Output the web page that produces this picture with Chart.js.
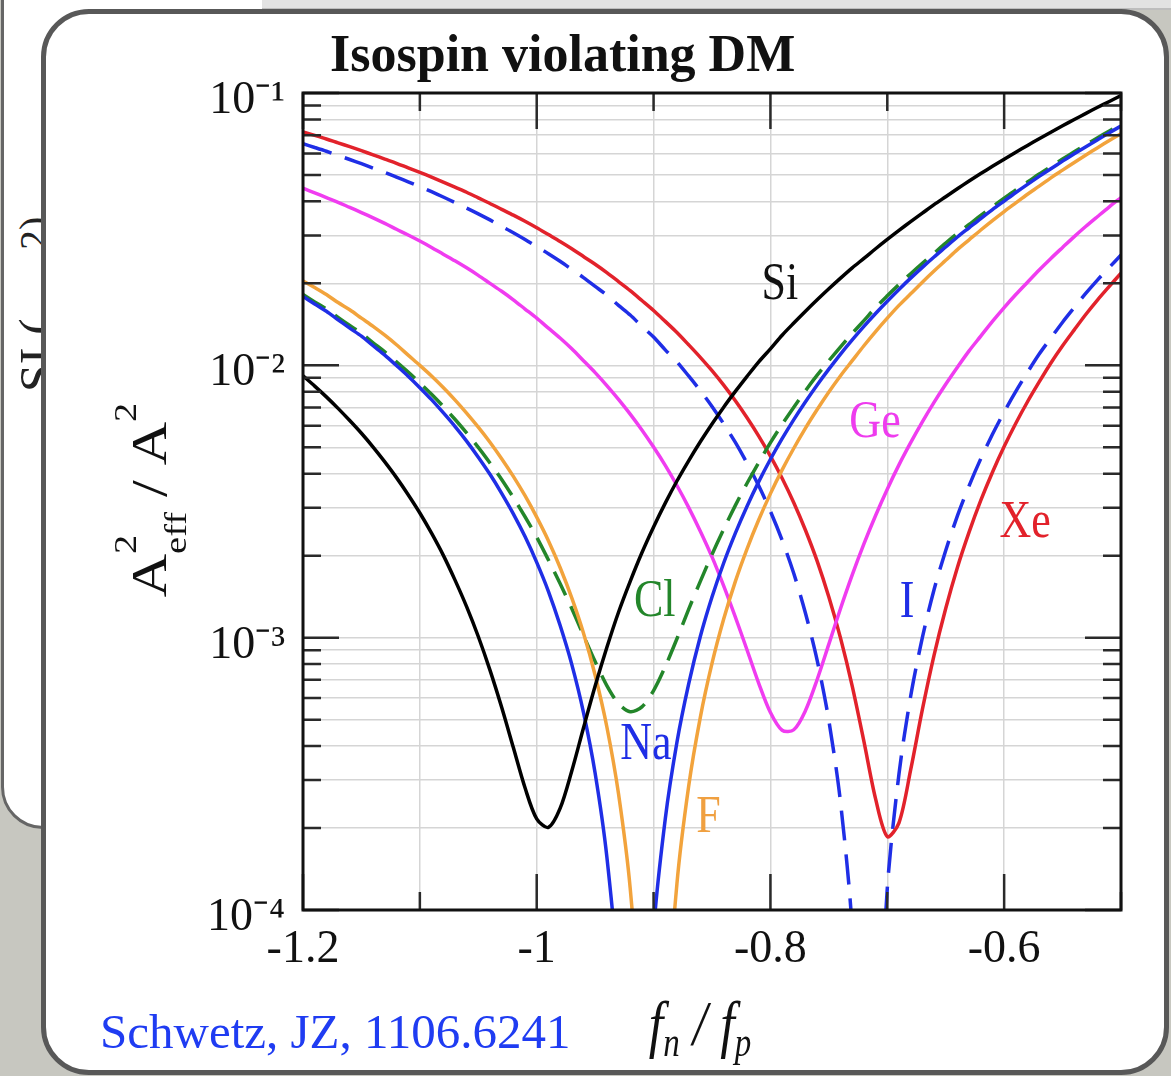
<!DOCTYPE html>
<html>
<head>
<meta charset="utf-8">
<script src="https://cdn.jsdelivr.net/npm/chart.js@4.4.1/dist/chart.umd.min.js"></script>
<style>
html, body { margin: 0; padding: 0; }
body { width: 1171px; height: 1076px; position: relative; overflow: hidden; background: #c7c7c0; }
#backCard { position: absolute; left: 1px; top: -60px; width: 700px; height: 889px; background: #fff; border: 3px solid #666; border-radius: 0 0 0 42px; box-sizing: border-box; }
#topStrip { position: absolute; left: 262px; top: 0; width: 909px; height: 10px; background: #e2e2e2; border-bottom: 2px solid #bdbdbd; box-sizing: border-box; }
.backText { position: absolute; font-family: "Liberation Serif", serif; color: #222; transform-origin: 0 0; transform: rotate(-90deg); white-space: nowrap; }
#card { position: absolute; left: 41px; top: 9px; width: 1128px; height: 1066px; background: #fff; border: 5px solid #585858; border-radius: 48px; box-sizing: border-box; }
#title { position: absolute; left: 330px; top: 28px; font-family: "Liberation Serif", serif; font-weight: bold; font-size: 52px; line-height: 52px; color: #111; white-space: nowrap; }
#cite { position: absolute; left: 100px; top: 1007px; font-family: "Liberation Serif", serif; font-size: 49px; line-height: 49px; color: #1f3cf2; white-space: nowrap; }
#chart { position: absolute; left: 0; top: 0; }
</style>
</head>
<body>
<div id="backCard"></div>
<div id="topStrip"></div>
<div class="backText" style="left:8px; top:392px; font-size:50px;">SI (</div>
<div class="backText" style="left:10px; top:250px; font-size:40px;">2)</div>
<div id="card"></div>
<div id="title">Isospin violating DM</div>
<div id="cite">Schwetz, JZ, 1106.6241</div>
<canvas id="chart" width="1171" height="1076"></canvas>
<script>
// ---- data ----
const fRatio = [-1.20,-1.19,-1.18,-1.17,-1.16,-1.15,-1.14,-1.13,-1.12,-1.11,
  -1.10,-1.09,-1.08,-1.07,-1.06,-1.05,-1.04,-1.03,-1.02,-1.01,
  -1.00,-0.99,-0.98,-0.97,-0.96,-0.95,-0.94,-0.93,-0.92,-0.91,
  -0.90,-0.89,-0.88,-0.87,-0.86,-0.85,-0.84,-0.83,-0.82,-0.81,
  -0.80,-0.79,-0.78,-0.77,-0.76,-0.75,-0.74,-0.73,-0.72,-0.71,
  -0.70,-0.69,-0.68,-0.67,-0.66,-0.65,-0.64,-0.63,-0.62,-0.61,
  -0.60,-0.59,-0.58,-0.57,-0.56,-0.55,-0.54,-0.53,-0.52,-0.51,-0.50];

const siValues = [0.00915,0.00839,0.00766,0.00695,0.00627,0.00563,0.00501,0.00442,0.00387,0.00335,
  0.00287,0.00242,0.00201,0.00163,0.00130,0.00101,0.000760,0.000555,0.000395,0.000281,
  0.000216,0.000201,0.000236,0.000324,0.000466,0.000664,0.000920,0.00124,0.00161,0.00205,
  0.00255,0.00312,0.00376,0.00446,0.00524,0.00609,0.00702,0.00802,0.00911,0.0103,
  0.0115,0.0129,0.0143,0.0158,0.0174,0.0191,0.0209,0.0228,0.0247,0.0268,
  0.0290,0.0313,0.0337,0.0362,0.0389,0.0416,0.0445,0.0475,0.0506,0.0538,
  0.0571,0.0606,0.0642,0.0679,0.0718,0.0758,0.0799,0.0842,0.0886,0.0931,0.0978];

const naValues = [0.0179,0.0168,0.0158,0.0147,0.0137,0.0128,0.0118,0.0109,0.00998,0.00912,
  0.00828,0.00748,0.00670,0.00597,0.00527,0.00460,0.00398,0.00339,0.00285,0.00235,
  0.00189,0.00148,0.00111,0.000798,0.000532,0.000318,0.000157,0.0000519,0.00000328,0.0000132,
  0.0000836,0.000216,0.000413,0.000675,0.00101,0.00141,0.00188,0.00242,0.00304,0.00374,
  0.00452,0.00538,0.00632,0.00735,0.00847,0.00968,0.0110,0.0124,0.0139,0.0155,
  0.0172,0.0190,0.0209,0.0229,0.0250,0.0272,0.0296,0.0320,0.0346,0.0373,
  0.0401,0.0431,0.0462,0.0494,0.0527,0.0562,0.0598,0.0635,0.0674,0.0715,0.0756];

const fValues = [0.0204,0.0193,0.0182,0.0170,0.0160,0.0149,0.0139,0.0129,0.0119,0.0109,
  0.0100,0.00914,0.00829,0.00747,0.00668,0.00593,0.00522,0.00454,0.00391,0.00332,
  0.00277,0.00227,0.00181,0.00140,0.00104,0.000728,0.000471,0.000267,0.000120,0.0000303,
  0.0000001,0.0000309,0.000125,0.000284,0.000510,0.000804,0.00117,0.00161,0.00212,0.00271,
  0.00338,0.00413,0.00496,0.00588,0.00688,0.00798,0.00916,0.0104,0.0118,0.0133,
  0.0149,0.0166,0.0183,0.0202,0.0222,0.0243,0.0266,0.0289,0.0314,0.0340,
  0.0367,0.0395,0.0425,0.0455,0.0488,0.0521,0.0556,0.0592,0.0630,0.0669,0.0709];

const clValues = [0.0182,0.0171,0.0161,0.0150,0.0140,0.0131,0.0121,0.0112,0.0103,0.00945,
  0.00862,0.00783,0.00707,0.00634,0.00565,0.00500,0.00438,0.00381,0.00327,0.00278,
  0.00234,0.00193,0.00158,0.00128,0.00102,0.000817,0.000667,0.000573,0.000535,0.000557,
  0.000639,0.000783,0.000991,0.00127,0.00161,0.00202,0.00250,0.00306,0.00369,0.00440,
  0.00520,0.00607,0.00702,0.00807,0.00920,0.0104,0.0117,0.0131,0.0146,0.0163,
  0.0180,0.0198,0.0217,0.0237,0.0258,0.0281,0.0305,0.0329,0.0355,0.0382,
  0.0411,0.0441,0.0471,0.0504,0.0537,0.0572,0.0608,0.0646,0.0685,0.0725,0.0767];

const geValues = [0.0447,0.0430,0.0413,0.0397,0.0380,0.0364,0.0348,0.0332,0.0316,0.0301,
  0.0286,0.0271,0.0256,0.0242,0.0228,0.0214,0.0200,0.0187,0.0174,0.0161,
  0.0149,0.0137,0.0126,0.0115,0.0104,0.00940,0.00843,0.00750,0.00662,0.00579,
  0.00501,0.00429,0.00362,0.00301,0.00246,0.00198,0.00155,0.00119,0.000901,0.000680,
  0.000531,0.000457,0.000459,0.000540,0.000702,0.000947,0.00128,0.00170,0.00221,0.00281,
  0.00351,0.00431,0.00520,0.00620,0.00731,0.00852,0.00984,0.0113,0.0128,0.0145,
  0.0163,0.0182,0.0202,0.0224,0.0247,0.0271,0.0297,0.0324,0.0352,0.0382,0.0413];

const xeValues = [0.0720,0.0699,0.0678,0.0656,0.0635,0.0614,0.0593,0.0572,0.0552,0.0531,
  0.0511,0.0491,0.0471,0.0451,0.0432,0.0412,0.0393,0.0374,0.0356,0.0338,
  0.0320,0.0302,0.0285,0.0268,0.0251,0.0235,0.0219,0.0203,0.0188,0.0173,
  0.0159,0.0145,0.0132,0.0119,0.0107,0.00956,0.00846,0.00741,0.00642,0.00550,
  0.00464,0.00385,0.00313,0.00248,0.00191,0.00141,0.000996,0.000664,0.000416,0.000256,
  0.000186,0.000209,0.000327,0.000544,0.000861,0.00128,0.00181,0.00244,0.00319,0.00405,
  0.00503,0.00613,0.00735,0.00869,0.0102,0.0118,0.0135,0.0154,0.0174,0.0195,0.0218];

const iValues = [0.0651,0.0631,0.0611,0.0590,0.0570,0.0550,0.0530,0.0511,0.0491,0.0472,
  0.0453,0.0434,0.0415,0.0396,0.0378,0.0360,0.0342,0.0324,0.0307,0.0290,
  0.0273,0.0257,0.0241,0.0225,0.0210,0.0195,0.0181,0.0166,0.0153,0.0139,
  0.0127,0.0114,0.0103,0.00914,0.00807,0.00706,0.00610,0.00521,0.00437,0.00361,
  0.00291,0.00228,0.00172,0.00123,0.000825,0.000496,0.000248,0.0000842,0.0000064,0.0000174,
  0.000120,0.000316,0.000609,0.00100,0.00150,0.00209,0.00280,0.00361,0.00454,0.00558,
  0.00674,0.00802,0.00943,0.0110,0.0126,0.0144,0.0163,0.0184,0.0206,0.0229,0.0254];

const seriesNames = ['Si', 'Na', 'F', 'Cl', 'Ge', 'Xe', 'I'];

const xTickValues = [-1.2, -1.1, -1.0, -0.9, -0.8, -0.7, -0.6, -0.5];
const xTickLabels = ['-1.2', '', '-1', '', '-0.8', '', '-0.6', ''];

const yTickValues = [0.0001,0.0002,0.0003,0.0004,0.0005,0.0006,0.0007,0.0008,0.0009,
  0.001,0.002,0.003,0.004,0.005,0.006,0.007,0.008,0.009,
  0.01,0.02,0.03,0.04,0.05,0.06,0.07,0.08,0.09,0.1];
const yTickLabels = ['10\u207B\u2074','','','','','','','','',
  '10\u207B\u00B3','','','','','','','','',
  '10\u207B\u00B2','','','','','','','','',
  '10\u207B\u00B9'];

// in-plot curve labels (data coordinates)
const labelNames = ['Si', 'Ge', 'Xe', 'Cl', 'I', 'Na', 'F'];
const labelF     = [-0.792, -0.7105, -0.582, -0.899, -0.683, -0.9065, -0.853];
const labelValue = [0.0197, 0.00614, 0.00264, 0.00135, 0.00134, 0.000404, 0.000218];

// ---- styles ----
const seriesValues = [siValues, naValues, fValues, clValues, geValues, xeValues, iValues];
const seriesColors = ['#000000', '#1f2ee6', '#f2a33c', '#23862a', '#f03cf0', '#e2222b', '#1f2ee6'];
const seriesDash   = [[], [], [], [26, 12], [], [], [30, 14]];
const labelColors  = ['#111111', '#ee3cee', '#e2222b', '#23862a', '#1f2ee6', '#1f2ee6', '#f0a040'];

const SERIF = '"Liberation Serif", "Times New Roman", serif';
const STRETCH = 1.2;

function drawStretched(ctx, text, x, y, font, color) {
  ctx.save();
  ctx.translate(x, y);
  ctx.scale(1, STRETCH);
  ctx.font = font;
  ctx.fillStyle = color;
  ctx.textAlign = 'center';
  ctx.textBaseline = 'middle';
  ctx.fillText(text, 0, 0);
  ctx.restore();
}

const framePlugin = {
  id: 'framePlugin',
  afterDatasetsDraw(chart) {
    const { ctx, chartArea: a, scales } = chart;
    const xs = scales.x, ys = scales.y;
    ctx.save();
    // inward tick marks
    ctx.strokeStyle = '#2a2a2a';
    ctx.lineWidth = 2.5;
    ctx.beginPath();
    xs.ticks.forEach((t, i) => {
      const px = xs.getPixelForValue(t.value);
      const len = xTickLabels[i] ? 36 : 18;
      ctx.moveTo(px, a.top); ctx.lineTo(px, a.top + len);
      ctx.moveTo(px, a.bottom); ctx.lineTo(px, a.bottom - len);
    });
    ys.ticks.forEach((t, i) => {
      const py = ys.getPixelForValue(t.value);
      const len = yTickLabels[i] ? 36 : 18;
      ctx.moveTo(a.left, py); ctx.lineTo(a.left + len, py);
      ctx.moveTo(a.right, py); ctx.lineTo(a.right - len, py);
    });
    ctx.stroke();
    // frame
    ctx.strokeStyle = '#111';
    ctx.lineWidth = 3;
    ctx.strokeRect(a.left, a.top, a.right - a.left, a.bottom - a.top);
    // curve labels
    labelNames.forEach((name, i) => {
      const px = xs.getPixelForValue(labelF[i]);
      const py = ys.getPixelForValue(labelValue[i]);
      drawStretched(ctx, name, px, py, '44px ' + SERIF, labelColors[i]);
    });
    ctx.restore();
  },
  afterDraw(chart) {
    const ctx = chart.ctx;
    // y-axis title: A^2_eff / A^2 (rotated)
    ctx.save();
    ctx.translate(166, 500);
    ctx.rotate(-Math.PI / 2);
    ctx.scale(STRETCH, 1);
    ctx.fillStyle = '#111';
    ctx.textBaseline = 'alphabetic';
    ctx.textAlign = 'left';
    const big = '50px ' + SERIF, small = '32px ' + SERIF;
    ctx.font = big; const wA = ctx.measureText('A').width; const wSlash = ctx.measureText(' / A').width;
    ctx.font = small; const w2 = ctx.measureText('2').width; const wEff = ctx.measureText('eff').width;
    const total = wA + Math.max(w2, wEff) + wSlash + w2;
    let u = -total / 2;
    ctx.font = big; ctx.fillText('A', u, 0); u += wA;
    ctx.font = small; ctx.fillText('2', u, -30); ctx.fillText('eff', u, 20); u += Math.max(w2, wEff);
    ctx.font = big; ctx.fillText(' / A', u, 0); u += wSlash;
    ctx.font = small; ctx.fillText('2', u, -30);
    ctx.restore();
    // x-axis title: f_n / f_p
    ctx.save();
    ctx.translate(700, 1045);
    ctx.scale(1, STRETCH);
    ctx.fillStyle = '#111';
    ctx.textBaseline = 'alphabetic';
    ctx.textAlign = 'left';
    const bigI = 'italic 52px ' + SERIF, smallI = 'italic 33px ' + SERIF;
    ctx.font = bigI; const wf = ctx.measureText('f').width; const wsl = ctx.measureText(' / ').width;
    ctx.font = smallI; const wn = ctx.measureText('n').width; const wp = ctx.measureText('p').width;
    const tot = wf + wn + wsl + wf + wp;
    let v = -tot / 2;
    ctx.font = bigI; ctx.fillText('f', v, 0); v += wf;
    ctx.font = smallI; ctx.fillText('n', v, 9); v += wn;
    ctx.font = bigI; ctx.fillText(' / ', v, 0); v += wsl;
    ctx.fillText('f', v, 0); v += wf;
    ctx.font = smallI; ctx.fillText('p', v, 9);
    ctx.restore();
  }
};

const datasets = seriesNames.map((name, k) => ({
  label: name,
  data: fRatio.map((f, i) => ({ x: f, y: seriesValues[k][i] })),
  borderColor: seriesColors[k],
  backgroundColor: seriesColors[k],
  borderWidth: 3.5,
  borderDash: seriesDash[k],
  pointRadius: 0,
  fill: false,
  tension: 0.3
}));

new Chart(document.getElementById('chart'), {
  type: 'line',
  data: { datasets },
  options: {
    responsive: false,
    animation: false,
    devicePixelRatio: 1,
    layout: { padding: { left: 183, top: 93, right: 50, bottom: 106 } },
    plugins: { legend: { display: false }, tooltip: { enabled: false }, title: { display: false } },
    scales: {
      x: {
        type: 'linear',
        min: -1.2,
        max: -0.5,
        afterBuildTicks: (s) => { s.ticks = xTickValues.map(v => ({ value: v })); },
        afterFit: (s) => { s.height = 60; },
        grid: { color: '#d5d5d5', lineWidth: 1.5, drawTicks: false },
        border: { display: false },
        ticks: {
          autoSkip: false, maxRotation: 0, padding: 12,
          font: { family: SERIF, size: 46 }, color: '#111',
          callback: (val, i) => xTickLabels[i]
        }
      },
      y: {
        type: 'logarithmic',
        min: 0.0001,
        max: 0.1,
        afterBuildTicks: (s) => { s.ticks = yTickValues.map(v => ({ value: v })); },
        afterFit: (s) => { s.width = 120; },
        grid: { color: '#d5d5d5', lineWidth: 1.5, drawTicks: false },
        border: { display: false },
        ticks: {
          autoSkip: false, padding: 18, labelOffset: 8,
          font: { family: SERIF, size: 46 }, color: '#111',
          callback: (val, i) => yTickLabels[i]
        }
      }
    }
  },
  plugins: [framePlugin]
});
</script>
</body>
</html>
